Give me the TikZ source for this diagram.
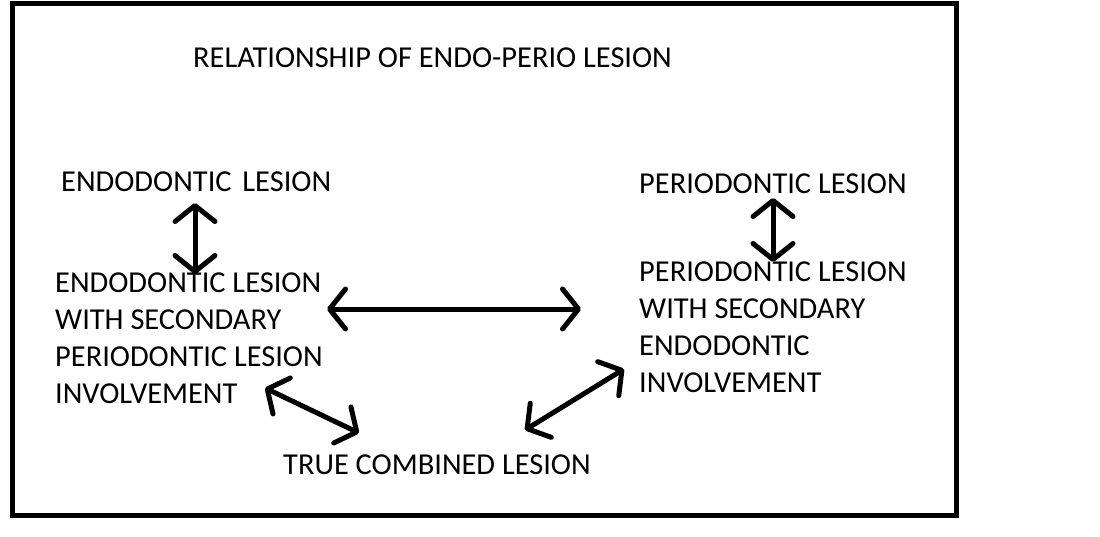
\documentclass[tikz,border=0pt]{standalone}
\usepackage{fontspec}
\setmainfont{Carlito}
\usetikzlibrary{arrows.meta}

\begin{document}
\begin{tikzpicture}[x=1pt,y=-1pt,
                   lbl/.style={anchor=base west,inner sep=0pt,align=left,font=\fontsize{30.4}{37}\selectfont},
                   dbl/.style={{Straight Barb[length=16pt,width=40pt,round]}-{Straight Barb[length=16pt,width=40pt,round]},line width=5pt,line cap=round}]
\useasboundingbox (0,0) rectangle (1100,536);
\draw[line width=5pt] (12.5,3.5) rectangle (956,515.5);
\node[lbl] (title) at (193,67) {RELATIONSHIP OF ENDO-PERIO LESION};
\node[lbl] (endo) at (61,191) {ENDODONTIC\hspace{4pt} LESION};
\node[lbl] (perio) at (639,193) {PERIODONTIC LESION};
\node[lbl] (endosec) at (55,403) {ENDODONTIC LESION\\WITH SECONDARY\\PERIODONTIC LESION\\INVOLVEMENT};
\node[lbl] (periosec) at (639,392) {PERIODONTIC LESION\\WITH SECONDARY\\ENDODONTIC\\INVOLVEMENT};
\node[lbl] (combined) at (283,474) {TRUE COMBINED LESION};
\coordinate (e1) at (195,203); \coordinate (e2) at (195,274);
\coordinate (p1) at (773,198); \coordinate (p2) at (773,262);
\coordinate (h1) at (327,309); \coordinate (h2) at (581,309);
\coordinate (l1) at (265,388); \coordinate (l2) at (359,433);
\coordinate (r1) at (525,430); \coordinate (r2) at (624,369);
\draw[dbl] (e1) -- (e2);
\draw[dbl] (p1) -- (p2);
\draw[dbl] (h1) -- (h2);
\draw[dbl] (l1) -- (l2);
\draw[dbl] (r1) -- (r2);
\end{tikzpicture}
\end{document}
